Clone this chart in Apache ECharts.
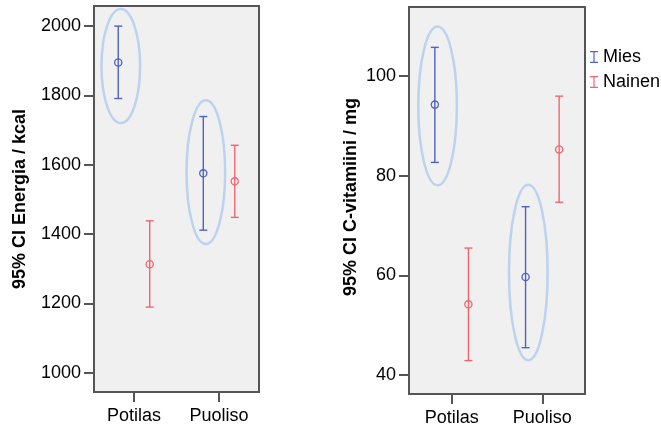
<!DOCTYPE html>
<html>
<head>
<meta charset="utf-8">
<script src="https://cdn.jsdelivr.net/npm/echarts@6/dist/echarts.min.js"></script>
<style>
  html, body { margin: 0; padding: 0; background: #ffffff; }
  #chart { width: 661px; height: 428px; }
</style>
</head>
<body>
<div id="chart"></div>
<script>
// categories on the x axis (positions 1 and 2)
var categories = ['Potilas', 'Puoliso'];

// energia / kcal, 95% CI
var energiaMiesMean = [1895, 1575];
var energiaMiesLow = [1791, 1411];
var energiaMiesHigh = [2000, 1739];
var energiaNainenMean = [1313, 1552];
var energiaNainenLow = [1189, 1448];
var energiaNainenHigh = [1438, 1656];

// C-vitamiini / mg, 95% CI
var cvitMiesMean = [94.3, 59.7];
var cvitMiesLow = [82.7, 45.5];
var cvitMiesHigh = [105.8, 73.8];
var cvitNainenMean = [54.2, 85.3];
var cvitNainenLow = [42.9, 74.7];
var cvitNainenHigh = [65.5, 96.0];

// highlight rings around the Mies bars (top / bottom value)
var energiaRingTop = [2049, 1786];
var energiaRingBottom = [1720, 1371];
var cvitRingTop = [110, 78.2];
var cvitRingBottom = [78.1, 43];

// tick labels
var energiaTicks = [1000, 1200, 1400, 1600, 1800, 2000];
var cvitTicks = [40, 60, 80, 100];
var catTicks = [1, 2];

var blue = '#4f63c0';
var red = '#f06670';
var ringColor = '#bcd3f0';
var borderGray = '#555555';
var font = '"Liberation Sans", Arial, sans-serif';

function toBars(mean, low, high) {
    return mean.map(function (m, i) { return [i + 1, m, low[i], high[i]]; });
}
function toRings(top, bottom) {
    return top.map(function (t, i) { return [i + 1, t, bottom[i]]; });
}

function errorBar(offset) {
    return function (params, api) {
        var x = api.value(0) + offset;
        var mid = api.coord([x, api.value(1)]);
        var lo = api.coord([x, api.value(2)]);
        var hi = api.coord([x, api.value(3)]);
        var color = api.visual('color');
        var st = { stroke: color, lineWidth: 1.4, fill: null };
        return {
            type: 'group',
            children: [
                { type: 'line', shape: { x1: lo[0], y1: lo[1], x2: hi[0], y2: hi[1] }, style: st },
                { type: 'line', shape: { x1: hi[0] - 4, y1: hi[1], x2: hi[0] + 4, y2: hi[1] }, style: st },
                { type: 'line', shape: { x1: lo[0] - 4, y1: lo[1], x2: lo[0] + 4, y2: lo[1] }, style: st },
                { type: 'circle', shape: { cx: mid[0], cy: mid[1], r: 3.6 }, style: { stroke: color, fill: null, lineWidth: 1.3 } }
            ]
        };
    };
}

function ring(offset) {
    return function (params, api) {
        var x = api.value(0) + offset;
        var top = api.coord([x, api.value(1)]);
        var bottom = api.coord([x, api.value(2)]);
        return {
            type: 'ellipse',
            shape: { cx: top[0], cy: (top[1] + bottom[1]) / 2, rx: 19.3, ry: (bottom[1] - top[1]) / 2 },
            style: { stroke: ringColor, lineWidth: 2.5, fill: null }
        };
    };
}

function xAxisFor(gridIndex) {
    return {
        gridIndex: gridIndex,
        type: 'value',
        min: 0.53,
        max: 2.47,
        axisLine: { show: false },
        splitLine: { show: false },
        axisTick: { customValues: catTicks, length: 10, lineStyle: { color: borderGray, width: 2 } },
        axisLabel: {
            customValues: catTicks,
            formatter: function (v) { return categories[Math.round(v) - 1]; },
            fontSize: 18,
            color: '#000',
            margin: 15
        }
    };
}

function yAxisFor(gridIndex, min, max, ticks) {
    return {
        gridIndex: gridIndex,
        type: 'value',
        min: min,
        max: max,
        axisLine: { show: false },
        splitLine: { show: false },
        axisTick: { customValues: ticks, length: 10, lineStyle: { color: borderGray, width: 2 } },
        axisLabel: {
            customValues: ticks,
            formatter: function (v) { return String(v); },
            fontSize: 18,
            color: '#000',
            margin: 13
        }
    };
}

var chart = echarts.init(document.getElementById('chart'));
var option = {
    backgroundColor: '#ffffff',
    animation: false,
    textStyle: { fontFamily: font },
    grid: [
        { show: true, left: 94, top: 6, width: 165, height: 386, backgroundColor: '#f0f0f0', borderColor: borderGray, borderWidth: 2 },
        { show: true, left: 409, top: 7, width: 176, height: 387, backgroundColor: '#f0f0f0', borderColor: borderGray, borderWidth: 2 }
    ],
    xAxis: [xAxisFor(0), xAxisFor(1)],
    yAxis: [
        yAxisFor(0, 944, 2058, energiaTicks),
        yAxisFor(1, 36.2, 113.9, cvitTicks)
    ],
    legend: {
        orient: 'vertical',
        left: 585,
        top: 43,
        selectedMode: false,
        itemWidth: 8,
        itemHeight: 12,
        itemGap: 7,
        icon: 'path://M0,0H8V1.3H4.6V10.7H8V12H0V10.7H3.4V1.3H0Z',
        textStyle: { fontSize: 18, color: '#000' },
        data: ['Mies', 'Nainen']
    },
    graphic: [
        {
            type: 'text', x: 20, y: 199, rotation: Math.PI / 2,
            style: { text: '95% CI Energia / kcal', fontSize: 18, fontWeight: 'bold', fontFamily: font, fill: '#000', textAlign: 'center', textVerticalAlign: 'middle', align: 'center', verticalAlign: 'middle' }
        },
        {
            type: 'text', x: 351, y: 197, rotation: Math.PI / 2,
            style: { text: '95% CI C-vitamiini / mg', fontSize: 18, fontWeight: 'bold', fontFamily: font, fill: '#000', textAlign: 'center', textVerticalAlign: 'middle', align: 'center', verticalAlign: 'middle' }
        }
    ],
    series: [
        { name: 'ring', type: 'custom', xAxisIndex: 0, yAxisIndex: 0, renderItem: ring(-0.155), data: toRings(energiaRingTop, energiaRingBottom), silent: true },
        { name: 'ring', type: 'custom', xAxisIndex: 1, yAxisIndex: 1, renderItem: ring(-0.155), data: toRings(cvitRingTop, cvitRingBottom), silent: true },
        { name: 'Mies', type: 'custom', xAxisIndex: 0, yAxisIndex: 0, itemStyle: { color: blue }, renderItem: errorBar(-0.185), data: toBars(energiaMiesMean, energiaMiesLow, energiaMiesHigh) },
        { name: 'Nainen', type: 'custom', xAxisIndex: 0, yAxisIndex: 0, itemStyle: { color: red }, renderItem: errorBar(0.185), data: toBars(energiaNainenMean, energiaNainenLow, energiaNainenHigh) },
        { name: 'Mies', type: 'custom', xAxisIndex: 1, yAxisIndex: 1, itemStyle: { color: blue }, renderItem: errorBar(-0.185), data: toBars(cvitMiesMean, cvitMiesLow, cvitMiesHigh) },
        { name: 'Nainen', type: 'custom', xAxisIndex: 1, yAxisIndex: 1, itemStyle: { color: red }, renderItem: errorBar(0.185), data: toBars(cvitNainenMean, cvitNainenLow, cvitNainenHigh) }
    ]
};
chart.setOption(option);
</script>
</body>
</html>
